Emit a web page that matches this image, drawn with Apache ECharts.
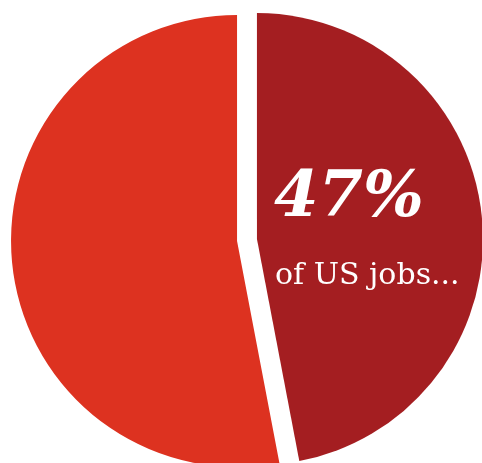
<!DOCTYPE html>
<html>
<head>
<meta charset="utf-8">
<script src="https://cdn.jsdelivr.net/npm/echarts@6/dist/echarts.min.js"></script>
<style>
  html, body { margin: 0; padding: 0; background: #ffffff; }
  #chart { width: 482px; height: 463px; }
</style>
</head>
<body>
<div id="chart"></div>
<script>
// Share of US jobs: the highlighted part first, the rest after it
const categories = ['At risk', 'Other'];
const jobShare = [47, 53];
const sliceColors = ['#a41e21', '#dd3220'];

const chart = echarts.init(document.getElementById('chart'), null, { renderer: 'canvas' });

chart.setOption({
  animation: false,
  backgroundColor: '#ffffff',
  series: [{
    type: 'pie',
    center: [247, 240],
    radius: [0, 226],
    startAngle: 90,
    clockwise: true,
    silent: true,
    // both slices pulled apart from the centre to open a gap between them
    selectedMode: 'multiple',
    selectedOffset: 10,
    label: { show: false },
    labelLine: { show: false },
    emphasis: { disabled: true },
    itemStyle: { borderWidth: 0 },
    data: categories.map((name, i) => ({
      name: name,
      value: jobShare[i],
      selected: true,
      itemStyle: { color: sliceColors[i] },
      select: { itemStyle: { color: sliceColors[i], borderWidth: 0 } }
    }))
  }],
  graphic: [
    {
      type: 'text',
      silent: true,
      z: 100,
      style: {
        x: 274, y: 199,
        text: jobShare[0] + '%',
        fill: '#ffffff',
        font: 'italic bold 64px "DejaVu Serif"',
        verticalAlign: 'middle'
      }
    },
    {
      type: 'text',
      silent: true,
      z: 100,
      style: {
        x: 275, y: 276,
        text: 'of US jobs...',
        fill: '#ffffff',
        font: '30px "DejaVu Serif"',
        verticalAlign: 'middle'
      }
    }
  ]
});
</script>
</body>
</html>
